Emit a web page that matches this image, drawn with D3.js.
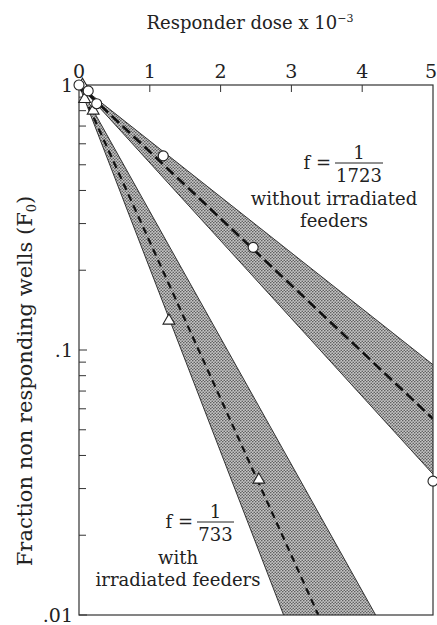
<!DOCTYPE html>
<html>
<head>
<meta charset="utf-8">
<script src="https://cdn.jsdelivr.net/npm/d3@7"></script>
<style>
  body { margin: 0; background: #fff; }
  svg { display: block; }
  text { font-family: "DejaVu Serif", "Liberation Serif", serif; fill: #222; }
</style>
</head>
<body>
<svg id="chart" width="437" height="625"></svg>
<script>
// Responder dose (x 10^-3) vs fraction of non responding wells, log scale

const xTicks = [0, 1, 2, 3, 4, 5];
const yMajor = [1, 0.1, 0.01];
const yMajorLabels = ['1', '.1', '.01'];
const yMinor = [0.9, 0.8, 0.7, 0.6, 0.5, 0.4, 0.3, 0.2,
                0.09, 0.08, 0.07, 0.06, 0.05, 0.04, 0.03, 0.02];

// without irradiated feeders (circles)
const withoutDose = [0, 0.13, 0.25, 1.19, 2.46, 5.0];
const withoutF = [1, 0.95, 0.85, 0.54, 0.244, 0.032];
// with irradiated feeders (triangles)
const withDose = [0.05, 0.08, 0.2, 1.27, 2.54];
const withF = [1, 0.885, 0.80, 0.129, 0.0324];

// fitted lines and confidence limits, [dose, F] end points
const withoutFit = [[0, 1], [5, 0.055]];
const withoutUpper = [[0, 1], [5, 0.088]];
const withoutLower = [[0, 1], [5, 0.034]];
const withFit = [[0, 1], [3.38, 0.01]];
const withUpper = [[0, 1], [4.19, 0.01]];
const withLower = [[0, 1], [2.89, 0.01]];

const plotLeft = 79, plotRight = 433, plotTop = 85, plotBottom = 615;

const svg = d3.select('#chart');

const x = d3.scaleLinear().domain([0, 5]).range([plotLeft, plotRight]);
const y = d3.scaleLog().domain([0.01, 1]).range([plotBottom, plotTop]);

// stipple pattern for the bands
const defs = svg.append('defs');
const pat = defs.append('pattern')
    .attr('id', 'stipple')
    .attr('width', 3).attr('height', 3)
    .attr('patternUnits', 'userSpaceOnUse');
pat.append('rect').attr('width', 3).attr('height', 3).attr('fill', '#c6c6c6');
pat.append('circle').attr('cx', 0.75).attr('cy', 0.75).attr('r', 0.8).attr('fill', '#5a5a5a');
pat.append('circle').attr('cx', 2.25).attr('cy', 2.25).attr('r', 0.8).attr('fill', '#5a5a5a');

defs.append('clipPath').attr('id', 'plot-clip')
    .append('rect')
    .attr('x', plotLeft).attr('y', plotTop)
    .attr('width', plotRight - plotLeft).attr('height', plotBottom - plotTop);

const line = d3.line().x(d => x(d[0])).y(d => y(d[1]));

const plot = svg.append('g').attr('clip-path', 'url(#plot-clip)');

// bands
[[withoutUpper, withoutLower], [withUpper, withLower]].forEach(([a, b]) => {
    const poly = a.concat(b.slice().reverse());
    plot.append('path')
        .attr('d', line(poly) + 'Z')
        .attr('fill', 'url(#stipple)')
        .attr('stroke', 'none');
    [a, b].forEach(edge => {
        plot.append('path')
            .attr('d', line(edge))
            .attr('fill', 'none')
            .attr('stroke', '#333')
            .attr('stroke-width', 1);
    });
});

// fitted dashed lines
plot.append('path')
    .attr('d', line(withoutFit))
    .attr('fill', 'none')
    .attr('stroke', '#111')
    .attr('stroke-width', 2.6)
    .attr('stroke-dasharray', '10,5');

plot.append('path')
    .attr('d', line(withFit))
    .attr('fill', 'none')
    .attr('stroke', '#111')
    .attr('stroke-width', 2.2)
    .attr('stroke-dasharray', '7,5');

// frame
svg.append('rect')
    .attr('x', plotLeft).attr('y', plotTop)
    .attr('width', plotRight - plotLeft).attr('height', plotBottom - plotTop)
    .attr('fill', 'none')
    .attr('stroke', '#333')
    .attr('stroke-width', 1.2);

// top axis ticks and labels
svg.selectAll('.xtick')
    .data(xTicks.slice(1, -1))
    .enter().append('line')
    .attr('x1', d => x(d)).attr('x2', d => x(d))
    .attr('y1', plotTop).attr('y2', plotTop + 7)
    .attr('stroke', '#333');

svg.selectAll('.xlabel')
    .data(xTicks)
    .enter().append('text')
    .attr('x', d => x(d) + (d === 5 ? -2 : 0))
    .attr('y', plotTop - 7)
    .attr('text-anchor', 'middle')
    .attr('font-size', '19px')
    .text(d => d);

// left axis ticks and labels
svg.selectAll('.ymajor')
    .data(yMajor)
    .enter().append('line')
    .attr('x1', plotLeft).attr('x2', plotLeft + 8)
    .attr('y1', d => y(d)).attr('y2', d => y(d))
    .attr('stroke', '#333');

svg.selectAll('.yminor')
    .data(yMinor)
    .enter().append('line')
    .attr('x1', plotLeft).attr('x2', plotLeft + 7)
    .attr('y1', d => y(d)).attr('y2', d => y(d))
    .attr('stroke', '#333');

svg.selectAll('.ylabel')
    .data(yMajor)
    .enter().append('text')
    .attr('x', plotLeft - 6)
    .attr('y', d => y(d) + 7)
    .attr('text-anchor', 'end')
    .attr('font-size', '19px')
    .text((d, i) => yMajorLabels[i]);

// markers
svg.selectAll('.tri')
    .data(withDose)
    .enter().append('path')
    .attr('d', d3.symbol().type(d3.symbolTriangle).size(60))
    .attr('transform', (d, i) => `translate(${x(d)},${y(withF[i])})`)
    .attr('fill', 'white')
    .attr('stroke', '#222')
    .attr('stroke-width', 1.1);

svg.selectAll('.circ')
    .data(withoutDose)
    .enter().append('circle')
    .attr('cx', d => x(d))
    .attr('cy', (d, i) => y(withoutF[i]))
    .attr('r', 5)
    .attr('fill', 'white')
    .attr('stroke', '#222')
    .attr('stroke-width', 1.1);

// axis titles
const xt = svg.append('text')
    .attr('x', 250).attr('y', 29)
    .attr('text-anchor', 'middle')
    .attr('font-size', '18px');
xt.append('tspan').text('Responder dose x 10');
xt.append('tspan').attr('dy', -7).attr('font-size', '11px').text('−3');

const yt = svg.append('text')
    .attr('transform', 'translate(32,381) rotate(-90)')
    .attr('text-anchor', 'middle')
    .attr('font-size', '21px');
yt.append('tspan').text('Fraction non responding wells (F');
yt.append('tspan').attr('dy', 4).attr('font-size', '13px').text('0');
yt.append('tspan').attr('dy', -4).text(')');

// annotations
function fracLabel(cx, cy, denom, lines, lineX) {
    const g = svg.append('g');
    g.append('text')
        .attr('x', cx - 4).attr('y', cy + 6)
        .attr('text-anchor', 'end')
        .attr('font-size', '18px')
        .text('f =');
    const w = denom.length * 11 + 4;
    g.append('line')
        .attr('x1', cx).attr('x2', cx + w)
        .attr('y1', cy).attr('y2', cy)
        .attr('stroke', '#222').attr('stroke-width', 1);
    g.append('text')
        .attr('x', cx + w / 2).attr('y', cy - 4)
        .attr('text-anchor', 'middle')
        .attr('font-size', '18px')
        .text('1');
    g.append('text')
        .attr('x', cx + w / 2).attr('y', cy + 19)
        .attr('text-anchor', 'middle')
        .attr('font-size', '18px')
        .text(denom);
    lines.forEach((t, i) => {
        g.append('text')
            .attr('x', lineX).attr('y', cy + 42 + i * 22)
            .attr('text-anchor', 'middle')
            .attr('font-size', '18px')
            .text(t);
    });
}

fracLabel(335, 163, '1723', ['without irradiated', 'feeders'], 334);
fracLabel(197, 522, '733', ['with', 'irradiated feeders'], 178);
</script>
</body>
</html>
